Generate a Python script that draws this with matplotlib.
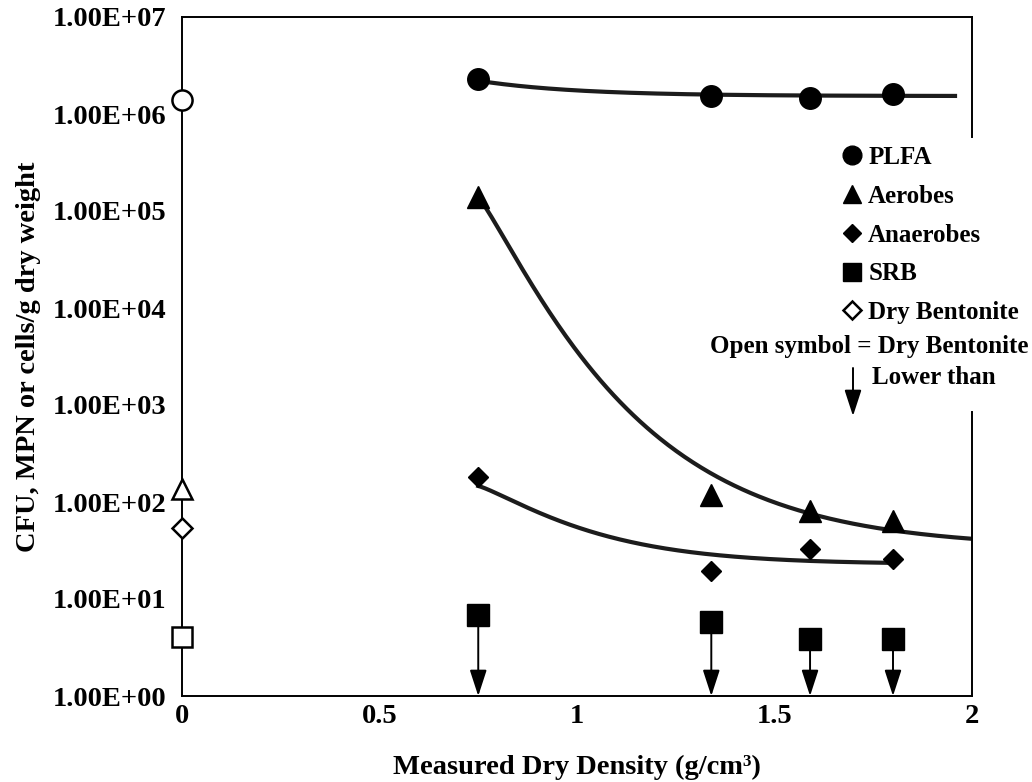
import numpy as np
import matplotlib.pyplot as plt

plt.rcParams['font.family'] = ['Liberation Serif', 'DejaVu Serif']
plt.rcParams['font.weight'] = 'bold'
plt.rcParams['axes.labelweight'] = 'bold'

# dry density of the compacted samples (g/cm3)
density = [0.75, 1.34, 1.59, 1.80]

plfa = [2.28e6, 1.53e6, 1.45e6, 1.59e6]
aerobes = [1.38e5, 118, 81, 63]
anaerobes = [180, 19.4, 32.8, 25.7]
srb = [6.8, 5.8, 3.9, 3.9]   # below detection, counts are lower than this

# dry bentonite powder, plotted at density 0 with open symbols
dry_plfa = 1.39e6
dry_aerobes = 136
dry_anaerobes = 54
dry_srb = 4.1

# fitted trend curves: log10(y) = base + amp * exp(-rate * (x - 0.75) ** shape)
plfa_trend = dict(base=6.185, amp=0.158, rate=4.0, shape=1.0, end=1.957)
aerobes_trend = dict(base=1.53, amp=3.61, rate=2.85, shape=1.15, end=2.0)
anaerobes_trend = dict(base=1.36, amp=0.805, rate=3.95, shape=1.2, end=1.80)

yticks = [1e0, 1e1, 1e2, 1e3, 1e4, 1e5, 1e6, 1e7]
xticks = [0, 0.5, 1, 1.5, 2]


def trend(p, x0=0.75):
    x = np.linspace(x0, p['end'], 300)
    y = 10 ** (p['base'] + p['amp'] * np.exp(-p['rate'] * (x - x0) ** p['shape']))
    return x, y


fig = plt.figure(figsize=(10.32, 7.82), dpi=100)
ax = fig.add_axes([182 / 1032, 86 / 782, 790 / 1032, 679 / 782])

line_col = '#1c1c1c'
for p in (plfa_trend, aerobes_trend, anaerobes_trend):
    tx, ty = trend(p)
    ax.plot(tx, ty, color=line_col, lw=3.0, zorder=2)

h_plfa, = ax.plot(density, plfa, 'o', ms=15.5, color='black', zorder=4, label='PLFA')
h_aer, = ax.plot(density, aerobes, '^', ms=15.5, color='black', zorder=4, label='Aerobes')
h_ana, = ax.plot(density, anaerobes, 'D', ms=10.5, color='black', zorder=4, label='Anaerobes')
h_srb, = ax.plot(density, srb, 's', ms=15.5, color='black', zorder=4, label='SRB')

# "lower than" arrows for SRB
for x, v in zip(density, srb):
    ax.annotate('', xy=(x, 1), xytext=(x, v), annotation_clip=False,
                arrowprops=dict(arrowstyle='-|>,head_length=0.8,head_width=0.26',
                                mutation_scale=20, lw=1.4, color='black',
                                shrinkA=0, shrinkB=0), zorder=3)

open_kw = dict(mfc='white', mec='black', mew=1.8, clip_on=False, zorder=5, ls='none')
ax.plot([0], [dry_plfa], 'o', ms=14.5, **open_kw)
ax.plot([0], [dry_aerobes], '^', ms=14, **open_kw)
h_dry, = ax.plot([0], [dry_anaerobes], 'D', ms=10, label='Dry Bentonite', **open_kw)
ax.plot([0], [dry_srb], 's', ms=14.5, **open_kw)

ax.set_yscale('log')
ax.set_ylim(1, 1e7)
ax.set_xlim(0, 2)
ax.set_yticks(yticks)
ax.set_yticklabels(['%.2E' % v for v in yticks])
ax.minorticks_off()
ax.set_xticks(xticks)
ax.set_xticklabels(['0', '0.5', '1', '1.5', '2'])
ax.tick_params(axis='y', length=0, labelsize=20.5, pad=11.5)
ax.tick_params(axis='x', length=0, labelsize=20.5, pad=6)

for s in ('left', 'bottom', 'top'):
    ax.spines[s].set_linewidth(1.4)
# right edge is broken where the key sits
ax.spines['right'].set_visible(False)
ax.plot([1, 1], [0, (696 - 412) / 679], transform=ax.transAxes, color='black',
        lw=1.4, clip_on=False, solid_capstyle='projecting')
ax.plot([1, 1], [(696 - 137) / 679, 1], transform=ax.transAxes, color='black',
        lw=1.4, clip_on=False, solid_capstyle='projecting')

ax.set_xlabel('Measured Dry Density (g/cm³)', fontsize=20.5)
ax.xaxis.set_label_coords(0.5, -0.086)
ax.set_ylabel('CFU, MPN or cells/g dry weight', fontsize=20.5)
ax.yaxis.set_label_coords(-0.178, 0.5)

leg = ax.legend(handles=[h_plfa, h_aer, h_ana, h_srb, h_dry], loc='upper left',
                bbox_to_anchor=(842 / 1032, (782 - 146) / 782),
                bbox_transform=fig.transFigure, frameon=False, fontsize=18,
                borderpad=0, borderaxespad=0, handlelength=0.8,
                handletextpad=0.25, labelspacing=0.63, numpoints=1,
                markerscale=0.87)

fig.text(1028 / 1032, (782 - 353) / 782, 'Open symbol = Dry Bentonite',
         fontsize=18, ha='right', va='baseline')
fig.text(872 / 1032, (782 - 384) / 782, 'Lower than', fontsize=18,
         ha='left', va='baseline')
ax.annotate('', xy=(853, 782 - 416), xytext=(853, 782 - 368), xycoords='figure pixels',
            textcoords='figure pixels', annotation_clip=False,
            arrowprops=dict(arrowstyle='-|>,head_length=0.8,head_width=0.26',
                            mutation_scale=20, lw=1.4, color='black',
                            shrinkA=0, shrinkB=0))

fig.savefig('out.png', dpi=100)
